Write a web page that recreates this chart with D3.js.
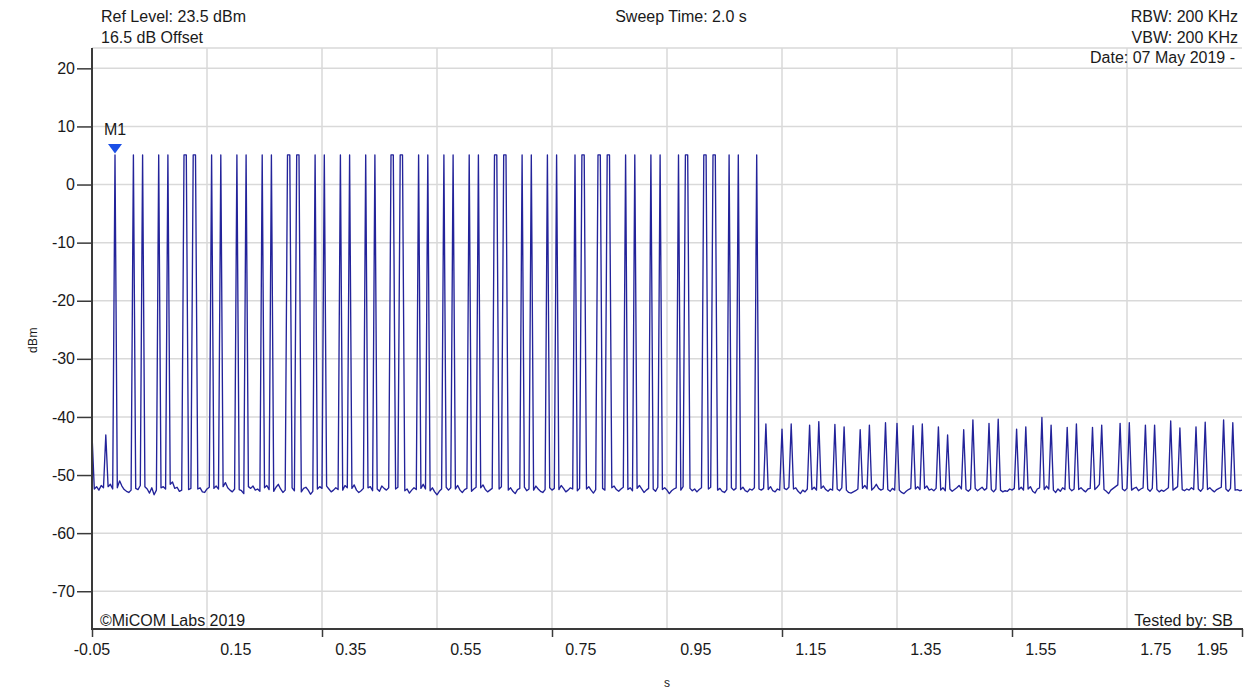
<!DOCTYPE html>
<html>
<head>
<meta charset="utf-8">
<script src="https://cdn.jsdelivr.net/npm/d3@7"></script>
<style>
  body { margin: 0; background: #fff; }
  text { font-family: "Liberation Sans", Arial, sans-serif; fill: #1a1a1a; }
</style>
</head>
<body>
<svg id="chart" width="1246" height="692"></svg>
<script>
// Zero-span sweep: 501 points, 4 ms apart, starting at -0.05 s
const sweepStart = -0.05;
const sweepStep = 0.004;

// Measured trace level per sweep point (dBm)
const traceDbm = [
  -43.0, -52.4, -52.0, -52.6, -51.8, -52.2, -43.1, -52.0, -51.6, -52.4, 5.1, -52.2, -51.0, -51.9, -52.5, -52.8, -53.0, -52.6, 5.1, -52.3,
  -52.5, -51.8, 5.1, -52.0, -52.4, -53.1, -52.2, -53.4, -52.6, 5.1, -52.2, -52.0, -52.4, 5.1, -51.6, -51.2, -52.3, -52.1, -52.8, -52.6,
  5.1, 5.1, -52.5, -52.3, 5.1, 5.1, -52.4, -52.2, -52.9, -53.0, -52.4, -52.1, 5.1, -52.3, -51.9, -52.4, 5.1, -52.0, -51.3, -52.2,
  -52.6, -52.9, -52.4, 5.1, -52.5, -52.7, -53.2, 5.1, -52.0, -52.3, -51.9, -52.6, -52.4, -52.8, 5.1, -52.2, -51.8, -52.5, 5.1, -52.8,
  -52.1, -51.6, -52.4, -53.0, -52.6, 5.1, 5.1, -52.2, -52.7, 5.1, 5.1, -52.9, -52.3, -52.1, -52.6, -53.3, -52.8, 5.1, -52.4, -52.0,
  -52.3, 5.1, -51.9, -52.4, -52.9, -52.6, -52.2, -52.5, 5.1, -52.6, -51.8, -52.2, 5.1, -52.3, -51.7, -52.6, -53.0, -52.7, -52.3, 5.1,
  -52.2, -52.0, -52.7, 5.1, -52.4, -52.8, -51.9, -52.3, -52.6, -52.2, 5.1, 5.1, -52.4, -52.1, 5.1, 5.1, -52.7, -52.4, -53.1, -52.6,
  -52.2, -52.5, 5.1, -52.3, -51.6, -52.4, 5.1, -52.7, -52.2, -52.9, -53.4, -52.8, -52.4, 5.1, -52.1, -52.6, -52.2, 5.1, -52.4, -51.8,
  -52.6, -53.0, -52.5, -52.3, 5.1, -52.8, -52.4, -52.1, 5.1, -52.2, -51.7, -52.5, -52.9, -52.6, -52.3, 5.1, 5.1, -52.4, -52.0, 5.1,
  5.1, -52.6, -52.2, -52.8, -53.2, -52.5, -52.3, 5.1, -52.1, -52.7, -52.4, 5.1, -52.6, -51.9, -52.4, -52.8, -53.0, -52.5, 5.1, -52.2,
  -52.6, -52.3, 5.1, -52.5, -51.8, -52.3, -52.9, -52.6, -52.2, -52.4, 5.1, -52.7, -52.3, 5.1, 5.1, -52.4, -52.0, -52.6, -53.1, -52.5,
  5.1, 5.1, -52.3, -52.6, 5.1, 5.1, -52.2, -51.9, -52.5, -52.8, -52.4, -52.1, 5.1, -52.5, -52.2, -52.7, 5.1, -52.3, -51.8, -52.4,
  -53.0, -52.6, -52.3, 5.1, -52.4, -52.8, -52.1, 5.1, -52.5, -52.2, -52.6, -53.2, -52.7, -52.4, -52.2, 5.1, -52.6, -52.0, 5.1, 5.1,
  -52.3, -52.7, -52.4, -52.9, -52.5, -52.2, 5.1, 5.1, -52.4, -52.1, 5.1, 5.1, -52.6, -52.3, -52.8, -53.0, -52.5, 5.1, -52.2, -52.6,
  -52.3, 5.1, -52.5, -52.1, -52.7, -52.9, -52.4, -52.6, -52.2, 5.1, -52.4, -52.6, -52.3, -41.2, -52.5, -52.0, -52.7, -52.9, -52.4, -52.6,
  -42.1, -52.3, -52.5, -52.1, -41.2, -52.4, -52.2, -52.8, -53.2, -52.6, -52.9, -52.4, -41.4, -52.5, -52.1, -52.6, -40.8, -52.3, -51.9, -52.5,
  -52.8, -52.4, -52.6, -41.3, -52.4, -52.7, -52.2, -41.7, -52.6, -53.0, -53.1, -52.9, -52.7, -52.4, -42.2, -52.3, -51.8, -52.4, -41.4, -52.6,
  -52.2, -51.6, -52.3, -52.6, -52.4, -41.0, -52.5, -52.8, -52.3, -52.6, -41.1, -52.6, -53.0, -53.2, -52.8, -52.5, -52.3, -41.5, -52.4, -52.0,
  -52.5, -41.2, -52.3, -51.9, -52.6, -52.4, -52.7, -52.3, -41.7, -52.6, -52.2, -52.7, -43.1, -52.4, -52.8, -52.5, -52.2, -51.8, -52.4, -42.2,
  -52.5, -52.8, -52.4, -40.5, -52.3, -52.7, -52.4, -52.1, -52.6, -52.3, -41.1, -52.5, -52.9, -52.4, -40.4, -52.6, -52.9, -52.7, -52.8, -52.4,
  -52.6, -52.3, -42.1, -52.5, -52.1, -52.6, -41.7, -52.4, -52.0, -52.8, -53.1, -52.4, -52.2, -40.1, -52.5, -51.9, -52.4, -41.4, -52.6, -53.0,
  -52.4, -52.8, -52.2, -52.5, -41.8, -52.3, -52.7, -52.4, -41.2, -52.5, -52.2, -52.6, -52.9, -52.4, -52.3, -41.8, -52.5, -52.1, -51.6, -41.4,
  -52.5, -52.8, -53.2, -52.6, -52.3, -52.0, -51.7, -41.1, -52.4, -52.7, -52.3, -41.0, -52.6, -52.3, -52.1, -52.7, -52.4, -52.2, -41.4, -52.4,
  -52.8, -52.3, -41.4, -52.5, -52.9, -52.6, -52.8, -52.5, -52.2, -40.7, -52.6, -52.3, -52.0, -41.9, -52.5, -52.7, -52.4, -52.6, -52.2, -52.5,
  -41.7, -52.4, -52.8, -52.3, -40.9, -52.5, -52.2, -52.6, -52.9, -52.5, -52.3, -52.1, -40.5, -52.4, -52.8, -52.3, -41.0, -52.6, -52.5, -52.7,
  -52.6
];

// Marker M1 sits on this sweep point
const markerName = "M1";
const markerIndex = 10;

// Axis ticks
const yTicks = [20, 10, 0, -10, -20, -30, -40, -50, -60, -70];
const xGridTicks = [0.15, 0.35, 0.55, 0.75, 0.95, 1.15, 1.35, 1.55, 1.75];
const xTickMarks = [-0.05, 0.35, 0.75, 1.15, 1.55, 1.95];
const xTickLabels = [-0.05, 0.15, 0.35, 0.55, 0.75, 0.95, 1.15, 1.35, 1.55, 1.75, 1.95];

// Header / footer annotations
const refLevelText = "Ref Level: 23.5 dBm";
const offsetText = "16.5 dB Offset";
const sweepText = "Sweep Time: 2.0 s";
const rbwText = "RBW: 200 KHz";
const vbwText = "VBW: 200 KHz";
const dateText = "Date: 07 May 2019 -";
const copyrightText = "\u00A9MiCOM Labs 2019";
const testerText = "Tested by: SB";

const svg = d3.select("#chart");
const plotL = 92, plotR = 1242, plotT = 48, plotB = 629;

const x = d3.scaleLinear().domain([-0.05, 1.95]).range([plotL, plotR]);
const y = d3.scaleLinear().domain([-76.5, 23.5]).range([plotB, plotT]);

const gridColor = "#d9d9d9";
const axisColor = "#3a3a3a";

// Grid
const grid = svg.append("g");
grid.selectAll("line.h").data(yTicks.concat([23.5])).join("line")
  .attr("x1", plotL).attr("x2", plotR)
  .attr("y1", d => y(d)).attr("y2", d => y(d))
  .attr("stroke", gridColor).attr("stroke-width", 1.5);
grid.selectAll("line.v").data(xGridTicks).join("line")
  .attr("x1", d => x(d)).attr("x2", d => x(d))
  .attr("y1", plotT).attr("y2", plotB)
  .attr("stroke", gridColor).attr("stroke-width", 1.5);

// Trace
const line = d3.line()
  .x((d, i) => x(sweepStart + i * sweepStep))
  .y(d => y(d));
svg.append("path")
  .datum(traceDbm)
  .attr("d", line)
  .attr("fill", "none")
  .attr("stroke", "#23239a")
  .attr("stroke-width", 1.35)
  .attr("stroke-linejoin", "round");

// Y axis (plain hyphen for negative values)
const yAxis = svg.append("g")
  .attr("transform", `translate(${plotL},0)`)
  .call(d3.axisLeft(y).tickValues(yTicks).tickSize(15).tickSizeOuter(0).tickPadding(2)
    .tickFormat(d => String(d)));
yAxis.select(".domain").attr("stroke", axisColor).attr("stroke-width", 2)
  .attr("d", `M0,${plotT}V${plotB + 1}`);
yAxis.selectAll(".tick line").attr("stroke", axisColor).attr("stroke-width", 1.5);
yAxis.selectAll(".tick text")
  .style("font-size", "16px")
  .style("font-family", "'Liberation Sans', Arial, sans-serif")
  .attr("fill", "#1a1a1a");

// X axis: tick marks every second division
const xAxis = svg.append("g")
  .attr("transform", `translate(0,${plotB})`)
  .call(d3.axisBottom(x).tickValues(xTickMarks).tickSize(8).tickSizeOuter(0).tickFormat(""));
xAxis.select(".domain").attr("stroke", axisColor).attr("stroke-width", 2)
  .attr("d", `M${plotL - 1},0H${plotR + 1}`);
xAxis.selectAll(".tick line").attr("stroke", axisColor).attr("stroke-width", 1.5);

// X labels sit half a division right of their grid line; end labels stay inside the frame
const halfDiv = 0.05;
svg.append("g").selectAll("text").data(xTickLabels).join("text")
  .attr("x", (d, i) => i === 0 ? x(d) : i === xTickLabels.length - 1 ? x(d) - 14 : x(d + halfDiv))
  .attr("y", 655)
  .attr("text-anchor", (d, i) => i === xTickLabels.length - 1 ? "end" : "middle")
  .style("font-size", "16px")
  .text(d => d.toFixed(2));

// Axis titles
svg.append("text")
  .attr("transform", "translate(37,340) rotate(-90)")
  .attr("text-anchor", "middle")
  .style("font-size", "12px")
  .style("letter-spacing", "0.5px")
  .text("dBm");
svg.append("text")
  .attr("x", 667).attr("y", 687)
  .attr("text-anchor", "middle")
  .style("font-size", "12px")
  .text("s");

// Marker
const mx = x(sweepStart + markerIndex * sweepStep);
const my = y(traceDbm[markerIndex]);
svg.append("path")
  .attr("d", `M${mx - 7},${my - 11}L${mx + 7},${my - 11}L${mx},${my - 1.5}Z`)
  .attr("fill", "#1b4fe6");
svg.append("text")
  .attr("x", mx).attr("y", my - 20)
  .attr("text-anchor", "middle")
  .style("font-size", "16px")
  .text(markerName);

// Annotations
const notes = [
  { t: refLevelText, x: 101, y: 22, a: "start" },
  { t: offsetText, x: 101, y: 43, a: "start" },
  { t: sweepText, x: 681, y: 22, a: "middle" },
  { t: rbwText, x: 1238, y: 22, a: "end" },
  { t: vbwText, x: 1238, y: 43, a: "end" },
  { t: dateText, x: 1235, y: 63, a: "end" },
  { t: copyrightText, x: 100, y: 626, a: "start" },
  { t: testerText, x: 1233, y: 626, a: "end" }
];
svg.append("g").selectAll("text").data(notes).join("text")
  .attr("x", d => d.x).attr("y", d => d.y)
  .attr("text-anchor", d => d.a)
  .style("font-size", "16px")
  .text(d => d.t);
</script>
</body>
</html>
